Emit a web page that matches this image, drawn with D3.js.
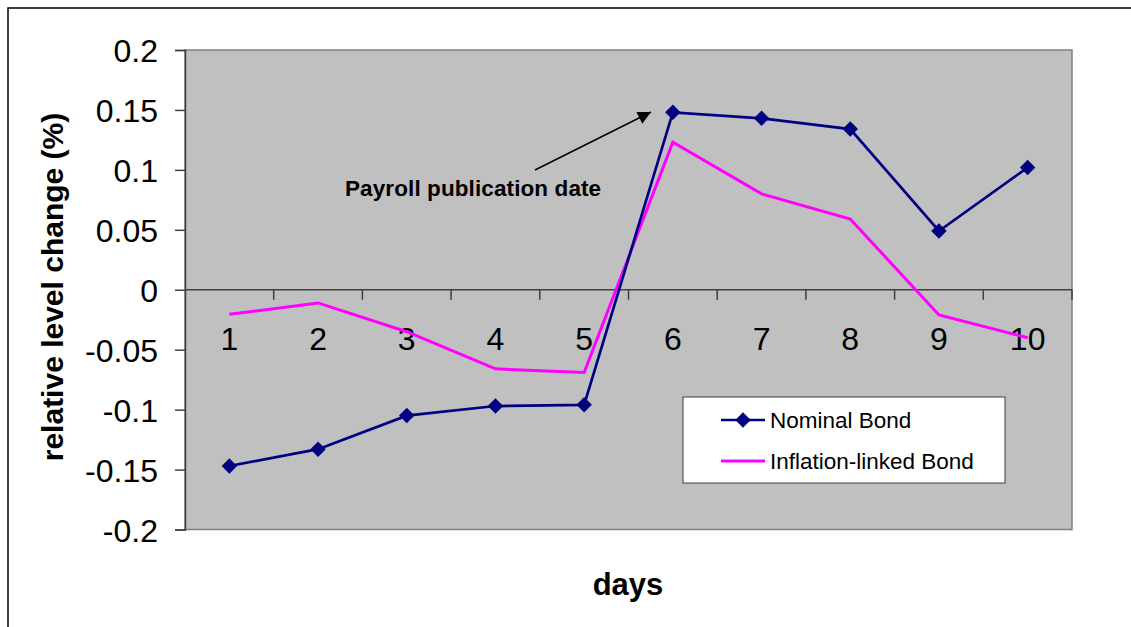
<!DOCTYPE html>
<html>
<head>
<meta charset="utf-8">
<script src="https://cdn.jsdelivr.net/npm/d3@7"></script>
<style>
  html, body { margin: 0; padding: 0; background: #fff; }
  svg { display: block; font-family: "Liberation Sans", Arial, sans-serif; }
</style>
</head>
<body>
<svg id="chart" width="1131" height="627"></svg>
<script>
const days = ["1", "2", "3", "4", "5", "6", "7", "8", "9", "10"];
const nominalBond = [-0.147, -0.133, -0.105, -0.097, -0.096, 0.148, 0.143, 0.134, 0.049, 0.102];
const inflationLinkedBond = [-0.0205, -0.011, -0.035, -0.066, -0.069, 0.123, 0.080, 0.059, -0.021, -0.040];
const yTicks = [-0.2, -0.15, -0.1, -0.05, 0, 0.05, 0.1, 0.15, 0.2];
const seriesNames = ["Nominal Bond", "Inflation-linked Bond"];

const svg = d3.select("#chart");

// outer frame
svg.append("rect").attr("x", 8).attr("y", 8).attr("width", 1140).attr("height", 640)
  .attr("fill", "none").attr("stroke", "#000").attr("stroke-width", 1.5);

const plot = { left: 185, right: 1072, top: 50, bottom: 529.5 };

const x = d3.scaleBand().domain(days).range([plot.left, plot.right]).paddingInner(0).paddingOuter(0);
const y = d3.scaleLinear().domain([-0.2, 0.2]).range([plot.bottom, plot.top]);
const xc = d => x(d) + x.bandwidth() / 2;

// plot area
svg.append("rect").attr("x", plot.left).attr("y", plot.top)
  .attr("width", plot.right - plot.left).attr("height", plot.bottom - plot.top)
  .attr("fill", "#C0C0C0").attr("stroke", "#808080").attr("stroke-width", 1.5);

// y axis
const yAxis = d3.axisLeft(y).tickValues(yTicks).tickSize(10).tickPadding(17)
  .tickFormat(d => d === 0 ? "0" : String(+d.toFixed(2)));
const gy = svg.append("g").attr("transform", `translate(${plot.left},0)`).call(yAxis);
gy.select(".domain").attr("stroke", "#404040").attr("stroke-width", 1.5);
gy.selectAll(".tick line").attr("stroke", "#404040").attr("stroke-width", 1.5);
gy.selectAll(".tick text").attr("font-size", 32).attr("fill", "#000")
  .attr("font-family", "Liberation Sans, Arial, sans-serif").attr("dy", "0.36em");

// x axis at zero
const y0 = y(0);
const gx = svg.append("g").attr("transform", `translate(0,${y0})`);
gx.append("line").attr("x1", plot.left).attr("x2", plot.right).attr("y1", 0).attr("y2", 0)
  .attr("stroke", "#404040").attr("stroke-width", 1.5);
const boundaries = days.map(d => x(d)).concat([x(days[days.length - 1]) + x.bandwidth()]).slice(1);
gx.selectAll("line.tk").data(boundaries).join("line").attr("class", "tk")
  .attr("x1", d => d).attr("x2", d => d).attr("y1", 0).attr("y2", 10)
  .attr("stroke", "#404040").attr("stroke-width", 1.5);
gx.selectAll("text").data(days).join("text")
  .attr("x", d => xc(d)).attr("y", 60.5).attr("text-anchor", "middle")
  .attr("font-size", 32).attr("fill", "#000").text(d => d);

// lines
const lineGen = vals => d3.line().x((v, i) => xc(days[i])).y(v => y(v))(vals);
svg.append("path").attr("d", lineGen(inflationLinkedBond)).attr("fill", "none")
  .attr("stroke", "#FF00FF").attr("stroke-width", 3);
svg.append("path").attr("d", lineGen(nominalBond)).attr("fill", "none")
  .attr("stroke", "#000080").attr("stroke-width", 2.7);

const diamond = d3.symbol().type(d3.symbolSquare).size(120);
svg.selectAll("path.mk").data(nominalBond).join("path").attr("class", "mk")
  .attr("d", diamond)
  .attr("transform", (v, i) => `translate(${xc(days[i])},${y(v)}) rotate(45)`)
  .attr("fill", "#000080");

// annotation
const defs = svg.append("defs");
defs.append("marker").attr("id", "arrow").attr("viewBox", "0 0 10 10")
  .attr("refX", 10).attr("refY", 5).attr("markerWidth", 16).attr("markerHeight", 13)
  .attr("markerUnits", "userSpaceOnUse").attr("orient", "auto")
  .append("path").attr("d", "M0,0 L10,5 L0,10 Z").attr("fill", "#000");
svg.append("line").attr("x1", 535).attr("y1", 170).attr("x2", 651).attr("y2", 112)
  .attr("stroke", "#000").attr("stroke-width", 1.5).attr("marker-end", "url(#arrow)");
svg.append("text").attr("x", 345).attr("y", 196).attr("font-size", 22.5).attr("font-weight", "bold")
  .attr("letter-spacing", 0.1)
  .attr("fill", "#000").text("Payroll publication date");

// legend
const lg = svg.append("g");
lg.append("rect").attr("x", 683).attr("y", 397).attr("width", 322).attr("height", 86)
  .attr("fill", "#fff").attr("stroke", "#404040").attr("stroke-width", 1);
const legendY = [420, 461];
const legendColors = ["#000080", "#FF00FF"];
seriesNames.forEach((name, i) => {
  lg.append("line").attr("x1", 721).attr("x2", 765).attr("y1", legendY[i]).attr("y2", legendY[i])
    .attr("stroke", legendColors[i]).attr("stroke-width", i === 0 ? 2.7 : 3);
  if (i === 0) {
    lg.append("path").attr("d", diamond).attr("transform", `translate(743,${legendY[i]}) rotate(45)`)
      .attr("fill", "#000080");
  }
  lg.append("text").attr("x", 770).attr("y", legendY[i] + 8).attr("font-size", 22.5)
    .attr("fill", "#000").text(name);
});

// axis titles
svg.append("text").attr("transform", "translate(63,287) rotate(-90)").attr("text-anchor", "middle")
  .attr("font-size", 30).attr("font-weight", "bold").attr("fill", "#000").text("relative level change (%)");
svg.append("text").attr("x", 628).attr("y", 595).attr("text-anchor", "middle")
  .attr("font-size", 31).attr("font-weight", "bold").attr("fill", "#000").text("days");
</script>
</body>
</html>
